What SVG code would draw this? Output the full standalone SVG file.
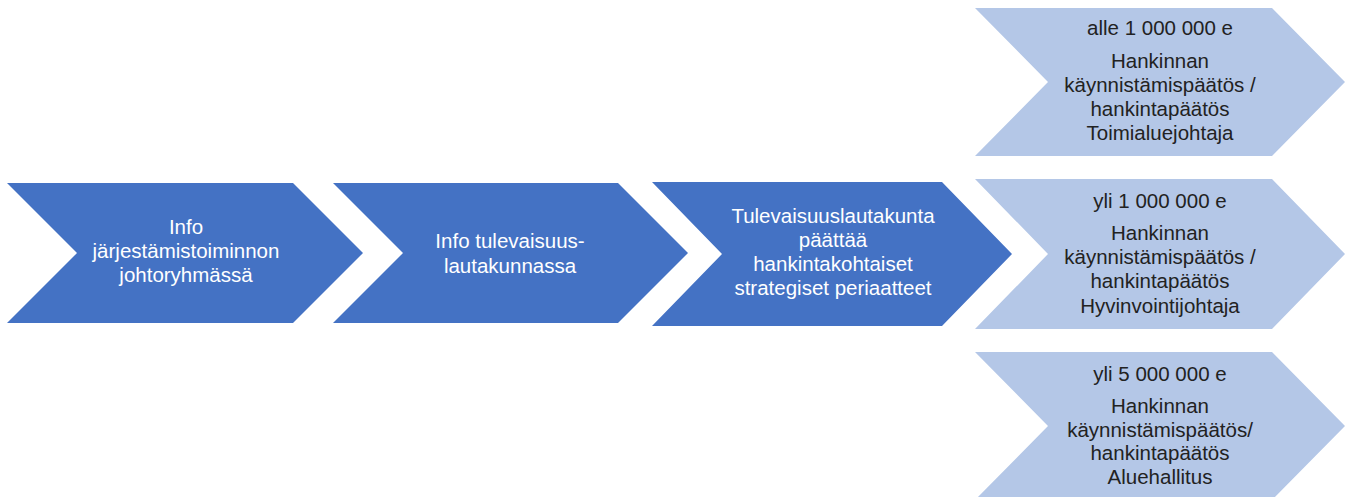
<svg xmlns="http://www.w3.org/2000/svg" width="1349" height="497" viewBox="0 0 1349 497">
<style>
.dark{fill:#4472C4}
.light{fill:#B4C7E7}
text{font-family:"Liberation Sans",Arial,sans-serif;font-size:20.5px;text-anchor:middle}
.w{fill:#FFFFFF}
.k{fill:#222222}
</style>
<rect width="1349" height="497" fill="#FFFFFF"/>
<g id="step1">
<polygon class="dark" points="7,183 293,183 363,253 293,323 7,323 77,253"/>
<text class="w" x="186"><tspan x="186" y="234">Info</tspan><tspan x="186" y="258">järjestämistoiminnon</tspan><tspan x="186" y="282">johtoryhmässä</tspan></text>
</g>
<g id="step2">
<polygon class="dark" points="333,183 618,183 688,253 618,323 333,323 403,253"/>
<text class="w" x="510"><tspan x="510" y="248">Info tulevaisuus-</tspan><tspan x="510" y="273">lautakunnassa</tspan></text>
</g>
<g id="step3">
<polygon class="dark" points="652,182 942,182 1012,254 942,326 652,326 722,254"/>
<text class="w" x="833"><tspan x="833" y="223">Tulevaisuuslautakunta</tspan><tspan x="833" y="247">päättää</tspan><tspan x="833" y="271">hankintakohtaiset</tspan><tspan x="833" y="295">strategiset periaatteet</tspan></text>
</g>
<g id="option1">
<polygon class="light" points="975,8 1272,8 1345,82 1272,156 975,156 1048,82"/>
<text class="k" x="1160"><tspan x="1160" y="35">alle 1 000 000 e</tspan><tspan x="1160" y="68">Hankinnan</tspan><tspan x="1160" y="92">käynnistämispäätös /</tspan><tspan x="1160" y="116">hankintapäätös</tspan><tspan x="1160" y="140">Toimialuejohtaja</tspan></text>
</g>
<g id="option2">
<polygon class="light" points="975,179 1272,179 1345,254 1272,329 975,329 1048,254"/>
<text class="k" x="1160"><tspan x="1160" y="208">yli 1 000 000 e</tspan><tspan x="1160" y="240">Hankinnan</tspan><tspan x="1160" y="264">käynnistämispäätös /</tspan><tspan x="1160" y="288">hankintapäätös</tspan><tspan x="1160" y="313">Hyvinvointijohtaja</tspan></text>
</g>
<g id="option3">
<polygon class="light" points="975,352 1272,352 1345,426 1272,500 975,500 1048,426"/>
<text class="k" x="1160"><tspan x="1160" y="381">yli 5 000 000 e</tspan><tspan x="1160" y="413">Hankinnan</tspan><tspan x="1160" y="437">käynnistämispäätös/</tspan><tspan x="1160" y="460">hankintapäätös</tspan><tspan x="1160" y="484">Aluehallitus</tspan></text>
</g>
<g id="connectors"></g>
</svg>
